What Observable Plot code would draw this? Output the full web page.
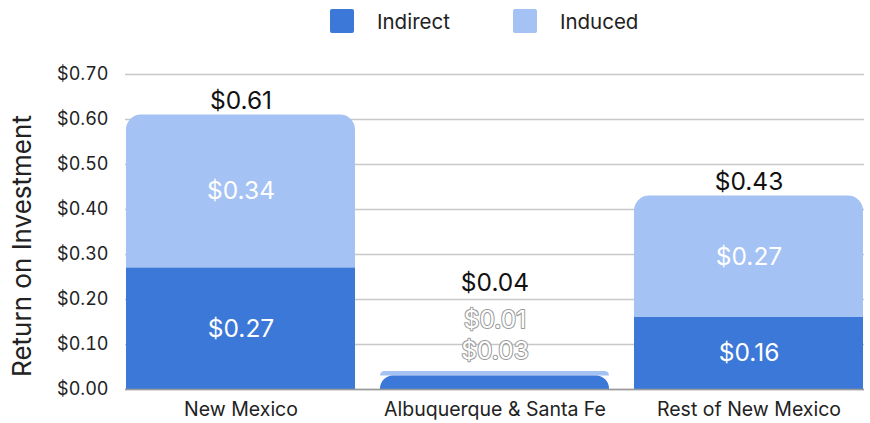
<!DOCTYPE html>
<html><head><meta charset="utf-8">
<script src="https://cdn.jsdelivr.net/npm/d3@7"></script>
<script src="https://cdn.jsdelivr.net/npm/@observablehq/plot@0.6"></script>
<style>
body{margin:0;background:#fff;font-family:Inter,"Noto Sans",sans-serif;}
#legend{height:42px;display:flex;align-items:center;justify-content:flex-start;padding-left:330px;font-size:20.5px;color:#222;box-sizing:border-box}
.sw{width:24px;height:24px;border-radius:2px;display:inline-block;margin-right:23px}
.item{display:flex;align-items:center;margin-right:63px}
</style></head>
<body>
<div id="legend"></div>
<div id="chart"></div>
<script>
const regions = ["New Mexico", "Albuquerque & Santa Fe", "Rest of New Mexico"];
const series = ["Indirect", "Induced"];
const indirect = [0.27, 0.03, 0.16];
const induced = [0.34, 0.01, 0.27];
const totals = [0.61, 0.04, 0.43];
const yTicks = [0, 0.1, 0.2, 0.3, 0.4, 0.5, 0.6, 0.7];
const yTitle = "Return on Investment";
const colors = ["#3c78d8", "#a4c2f4"];
const fmt = d => "$" + d.toFixed(2);

const leg = document.getElementById("legend");
series.forEach((s, i) => {
  const it = document.createElement("div"); it.className = "item";
  const sw = document.createElement("span"); sw.className = "sw"; sw.style.background = colors[i];
  it.appendChild(sw); it.appendChild(document.createTextNode(s)); leg.appendChild(it);
});

const rows = [];
regions.forEach((r, i) => {
  rows.push({region: r, type: "Indirect", y1: 0, y2: indirect[i], value: indirect[i]});
  rows.push({region: r, type: "Induced", y1: indirect[i], y2: indirect[i] + induced[i], value: induced[i]});
});
const totalRows = regions.map((r, i) => ({region: r, total: totals[i]}));
const small = r => r.region === "Albuquerque & Santa Fe";

const chart = Plot.plot({
  width: 870, height: 381,
  marginTop: 32, marginBottom: 34, marginLeft: 125, marginRight: 6,
  style: {fontFamily: "Inter, 'Noto Sans', sans-serif", fontSize: "18px", color: "#222", background: "#fff"},
  x: {domain: regions, paddingInner: 0.1, paddingOuter: 0, label: null},
  y: {domain: [0, 0.7], label: null},
  color: {domain: series, range: colors},
  marks: [
    Plot.gridY(yTicks, {stroke: "#c8c8c8", strokeOpacity: 1, strokeWidth: 1.5}),
    Plot.axisY(yTicks, {tickFormat: fmt, tickSize: 0, tickPadding: 17, fontSize: 18, fill: "#222", label: null}),
    Plot.axisX({tickSize: 0, tickPadding: 13, fontSize: 19.5, fill: "#222", label: null}),
    Plot.rectY(rows.filter(d => d.type === "Induced"), {x: "region", y1: "y1", y2: "y2", fill: "type", rx1y2: 15, rx2y2: 15}),
    Plot.rectY(rows.filter(d => d.type === "Indirect" && !small(d)), {x: "region", y1: "y1", y2: "y2", fill: "type"}),
    Plot.rectY(rows.filter(d => d.type === "Indirect" && small(d)), {x: "region", y1: "y1", y2: "y2", fill: "type", rx1y2: 13, rx2y2: 13}),
    Plot.ruleY([0], {stroke: "#999", strokeWidth: 1.5}),
    Plot.text([yTitle], {frameAnchor: "left", textAnchor: "middle", rotate: -90, dx: -103, dy: 14, fontSize: 26, fill: "#222"}),
    Plot.text(rows.filter(d => !small(d)), {x: "region", y: d => (d.y1 + d.y2) / 2, text: d => fmt(d.value), fill: "white", fontSize: 24.5}),
    Plot.text(rows.filter(d => small(d) && d.type === "Indirect"), {x: "region", y: "y2", text: d => fmt(d.value), fill: "white", stroke: "#999", strokeWidth: 2, fontSize: 24.5, dy: -25}),
    Plot.text(rows.filter(d => small(d) && d.type === "Induced"), {x: "region", y: "y2", text: d => fmt(d.value), fill: "white", stroke: "#999", strokeWidth: 2, fontSize: 24.5, dy: -51}),
    Plot.text(totalRows.filter(d => !small(d)), {x: "region", y: "total", text: d => fmt(d.total), fill: "#111", fontSize: 24.5, dy: -14}),
    Plot.text(totalRows.filter(small), {x: "region", y: "total", text: d => fmt(d.total), fill: "#111", fontSize: 24.5, dy: -88})
  ]
});
document.getElementById("chart").appendChild(chart);
</script>
</body></html>
